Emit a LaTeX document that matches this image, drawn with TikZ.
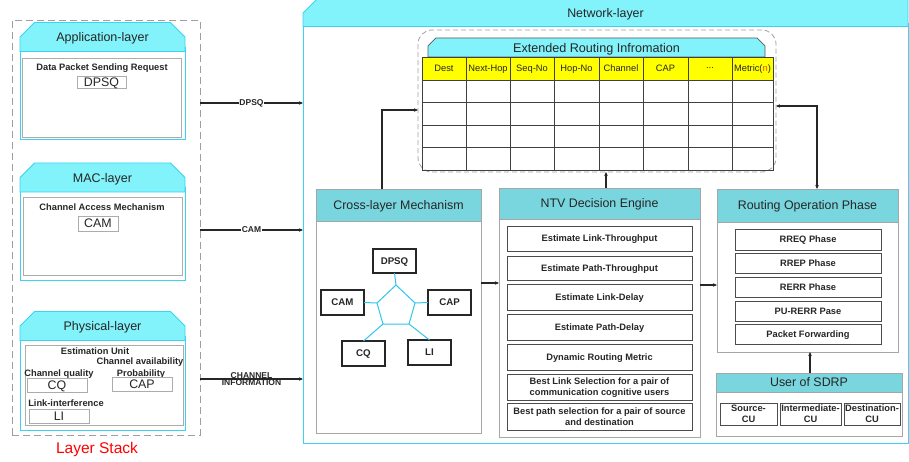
\documentclass[tikz,border=0pt]{standalone}
\usepackage{fontspec}
\setmainfont{Liberation Sans}
\usetikzlibrary{shapes.misc,arrows.meta,positioning}

\definecolor{hdrcyan}{HTML}{82F2FB}
\definecolor{hdrteal}{HTML}{79D6DF}
\definecolor{edgecyan}{HTML}{3CD2F2}
\definecolor{cellyellow}{HTML}{FFFF00}
\definecolor{metricred}{HTML}{FF4A00}
\definecolor{spokecyan}{HTML}{2EC6EA}

% box from its corners: name, x1, y1, x2, y2, style, text
\newcommand{\blk}[7]{\node[#6, minimum width={#4-#2}, minimum height={#5-#3}] (#1) at ({(#2+#4)/2},{(#3+#5)/2}) {#7};}

\begin{document}
\begin{tikzpicture}[x=1pt,y=-1pt]
	\useasboundingbox (0,0) rectangle (909,462);
	\tikzstyle{every node}=[inner sep=1pt, outer sep=0pt, text=black!85, align=center, text depth=0pt]
	\tikzstyle{stackbox}=[draw=gray!75, dash pattern=on 7pt off 4pt, line width=0.8pt]
	\tikzstyle{layerbody}=[draw=edgecyan, line width=0.9pt]
	\tikzstyle{layerhead}=[chamfered rectangle, chamfered rectangle corners={north west,north east},
		chamfered rectangle xsep=9pt, chamfered rectangle ysep=9pt, draw=edgecyan, fill=hdrcyan,
		line width=0.9pt, font=\fontsize{12.5}{14}\selectfont]
	\tikzstyle{innerbox}=[draw=gray!65, line width=0.8pt]
	\tikzstyle{tagbox}=[draw=gray!65, line width=0.8pt, font=\fontsize{12.4}{14}\selectfont]
	\tikzstyle{small}=[font=\bfseries\fontsize{9.3}{10.5}\selectfont]
	\tikzstyle{modbody}=[draw=gray!70, line width=0.8pt]
	\tikzstyle{modhead}=[draw=gray!70, fill=hdrteal, line width=0.8pt, font=\fontsize{12.4}{14}\selectfont]
	\tikzstyle{subbox}=[draw=gray!60!black, line width=0.8pt, font=\bfseries\fontsize{9.3}{11}\selectfont]
	\tikzstyle{cell}=[draw=black!75, line width=0.8pt, font=\fontsize{9.3}{11}\selectfont]
	\tikzstyle{penta}=[draw=black!85, line width=1.2pt, font=\bfseries\fontsize{9.7}{11}\selectfont]
	\tikzstyle{conn}=[draw=black!85, line width=1.1pt, -{Stealth[length=4pt,width=3.5pt]}]
	\tikzstyle{lbl}=[font=\bfseries\fontsize{8.5}{9.5}\selectfont, fill=white, inner sep=0.5pt]
	
	% layer stack
	\blk{stack}{12}{20}{200}{435}{stackbox}{}
	\node[text=red, font=\fontsize{15.5}{17}\selectfont] (stacklbl) at (97,448) {Layer Stack};
	
	\blk{appbody}{20}{47}{185}{139}{layerbody}{}
	\blk{apphead}{20}{27}{185}{47}{layerhead}{Application-layer}
	\blk{appin}{22}{58}{181}{137}{innerbox}{}
	\node[small] (dpsqtxt) at (102,67) {Data Packet Sending Request};
	\blk{dpsq}{77}{76}{126}{88}{tagbox}{DPSQ}
	
	\blk{macbody}{20}{187}{185}{280}{layerbody}{}
	\blk{machead}{20}{168}{185}{187}{layerhead}{MAC-layer}
	\blk{macin}{23}{197}{182}{275}{innerbox}{}
	\node[small] (camtxt) at (102,207) {Channel Access Mechanism};
	\blk{cam}{78}{216}{118}{231}{tagbox}{CAM}
	
	\blk{phybody}{20}{336}{185}{430}{layerbody}{}
	\blk{phyhead}{20}{316}{185}{336}{layerhead}{Physical-layer}
	\blk{phyin}{25}{345}{183}{425}{innerbox}{}
	\node[small] (esttxt) at (95,351.5) {Estimation Unit};
	\node[small] (cavtxt) at (140,361) {Channel availability};
	\node[small] (cqtxt) at (59,373.5) {Channel quality};
	\node[small] (probtxt) at (141,373.5) {Probability};
	\node[small] (litxt) at (66,403) {Link-interference};
	\blk{cq}{27}{378}{87}{392}{tagbox}{CQ}
	\blk{cap}{112}{377}{172}{391}{tagbox}{CAP}
	\blk{li}{29}{409}{89}{423}{tagbox}{LI}
	
	% network layer
	\blk{net}{303}{23}{908}{443}{draw=edgecyan, line width=0.9pt}{}
	\blk{nethead}{303}{3}{908}{23}{layerhead, chamfered rectangle corners=north west,
		chamfered rectangle xsep=8pt, chamfered rectangle ysep=8pt, font=\fontsize{12.4}{14}\selectfont}{Network-layer}
	
	% extended routing information
	\blk{eri}{418}{30}{776}{172}{draw=gray!75, dash pattern=on 5pt off 3pt, line width=0.8pt, rounded corners=14pt}{}
	\blk{erihead}{428}{38}{765}{57}{layerhead, draw=gray!70!black, line width=0.7pt,
		chamfered rectangle xsep=4pt, chamfered rectangle ysep=4pt, font=\fontsize{12.6}{14}\selectfont}{Extended Routing Infromation}
	\foreach \xa/\xb/\t [count=\i] in {422/466/Dest, 466/510/Next-Hop, 510/554/Seq-No, 554/599/Hop-No,
		599/643/Channel, 643/688/CAP, 688/732/{...}, 732/773/{Metric(\textcolor{metricred}{n})}}
	{
		\blk{h\i}{\xa}{57}{\xb}{80}{cell, fill=cellyellow}{\t}
		\foreach \ya/\yb [count=\j] in {80/102, 102/125, 125/147, 147/170}
		{
			\blk{r\i\j}{\xa}{\ya}{\xb}{\yb}{cell}{}
		}
	}
	
	% cross-layer mechanism
	\blk{clm}{316}{189}{481}{433}{modbody}{}
	\blk{clmhead}{316}{189}{481}{221}{modhead}{Cross-layer Mechanism}
	\blk{pdpsq}{373}{249}{416}{273}{penta}{DPSQ}
	\blk{pcam}{321}{290}{364}{315}{penta}{CAM}
	\blk{pcap}{428}{290}{471}{315}{penta}{CAP}
	\blk{pcq}{342}{341}{385}{366}{penta}{CQ}
	\blk{pli}{408}{340}{451}{365}{penta}{LI}
	\coordinate (v1) at (396,285);
	\coordinate (v2) at (415,303);
	\coordinate (v3) at (409,324);
	\coordinate (v4) at (383,324);
	\coordinate (v5) at (377,303);
	\draw[spokecyan, line width=1pt] (v1) -- (v2) -- (v3) -- (v4) -- (v5) -- cycle;
	\draw[spokecyan, line width=1pt] (v1) -- (pdpsq.south);
	\draw[spokecyan, line width=1pt] (v2) -- (pcap.west);
	\draw[spokecyan, line width=1pt] (v3) -- (pli.north);
	\draw[spokecyan, line width=1pt] (v4) -- (pcq.north);
	\draw[spokecyan, line width=1pt] (v5) -- (pcam.east);
	
	% NTV decision engine
	\blk{ntv}{499}{188}{700}{437}{modbody}{}
	\blk{ntvhead}{499}{188}{700}{219}{modhead}{NTV Decision Engine}
	\blk{elt}{507}{226}{692}{251}{subbox}{Estimate Link-Throughput}
	\blk{ept}{507}{256}{692}{280}{subbox}{Estimate Path-Throughput}
	\blk{eld}{507}{284}{692}{310}{subbox}{Estimate Link-Delay}
	\blk{epd}{507}{314}{692}{340}{subbox}{Estimate Path-Delay}
	\blk{drm}{507}{344}{692}{370}{subbox}{Dynamic Routing Metric}
	\blk{bls}{507}{374}{692}{400}{subbox}{Best Link Selection for a pair of\\communication cognitive users}
	\blk{bps}{507}{403}{692}{430}{subbox}{Best path selection for a pair of source\\and destination}
	
	% routing operation phase
	\blk{rop}{717}{189}{898}{352}{modbody}{}
	\blk{rophead}{717}{189}{898}{222}{modhead}{Routing Operation Phase}
	\blk{rreq}{735}{229}{881}{250}{subbox}{RREQ Phase}
	\blk{rrep}{735}{253}{881}{273}{subbox}{RREP Phase}
	\blk{rerr}{735}{277}{881}{297}{subbox}{RERR Phase}
	\blk{purerr}{735}{301}{881}{321}{subbox}{PU-RERR Pase}
	\blk{pfwd}{735}{324}{881}{344}{subbox}{Packet Forwarding}
	
	% user of SDRP
	\blk{sdrp}{716}{373}{902}{436}{modbody}{}
	\blk{sdrphead}{716}{373}{902}{392}{modhead}{User of SDRP}
	\blk{srccu}{720}{403}{777}{425}{subbox}{Source-\\CU}
	\blk{intcu}{780}{403}{841}{425}{subbox}{Intermediate-\\CU}
	\blk{dstcu}{844}{403}{900}{425}{subbox}{Destination-\\CU}
	
	% connectors
	\draw[conn] (stack.east |- 0,103) -- node[lbl] {DPSQ} (net.west |- 0,103);
	\draw[conn] (stack.east |- 0,230) -- node[lbl] {CAM} (net.west |- 0,230);
	\draw[conn] (stack.east |- 0,379) -- node[lbl, fill=none, above=0.5pt] {CHANNEL}
		node[lbl, fill=none, below=0.5pt] {INFORMATION} (net.west |- 0,379);
	\draw[conn] ([xshift=-16.5pt]clm.north) |- (eri.west |- 0,110);
	\draw[conn] ([xshift=6.5pt]ntv.north) -- ([xshift=6.5pt]ntv.north |- eri.south);
	\draw[conn, {Stealth[length=4pt,width=3.5pt]}-{Stealth[length=4pt,width=3.5pt]}] ([xshift=9.5pt]rop.north) |- (eri.east |- 0,106);
	\draw[conn] (clm.east |- 0,283) -- (ntv.west |- 0,283);
	\draw[conn] (ntv.east |- 0,285) -- (rop.west |- 0,285);
	\draw[conn] ([xshift=1pt]sdrp.north) -- ([xshift=1pt]sdrp.north |- rop.south);
\end{tikzpicture}
\end{document}
